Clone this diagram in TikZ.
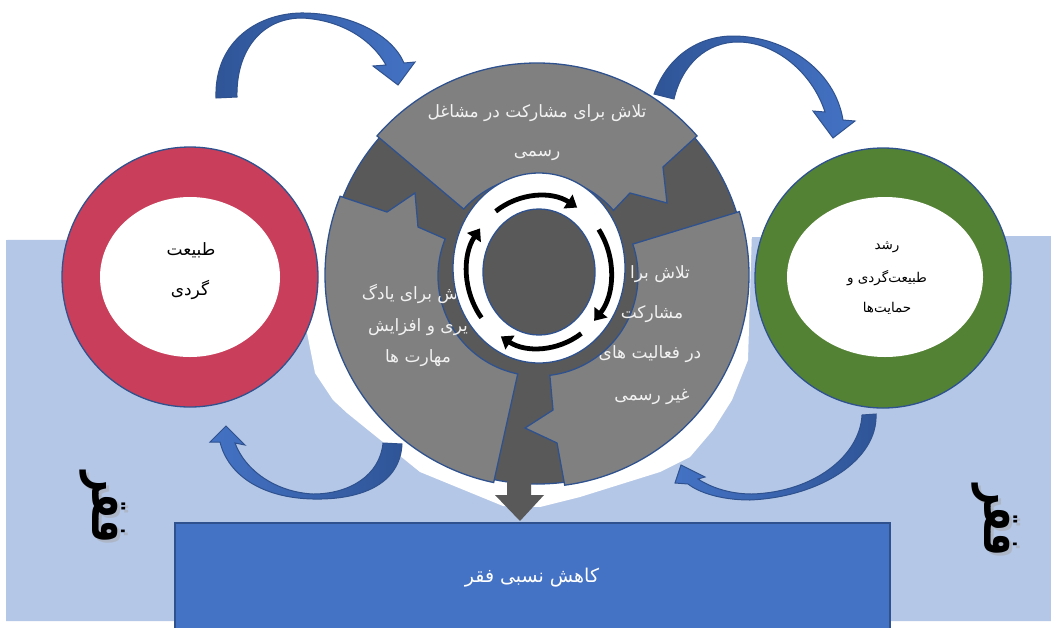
\documentclass[tikz,border=0pt]{standalone}
\usepackage{fontspec}
\usetikzlibrary{arrows.meta,calc}
\TeXXeTstate=1
\newfontfamily\arabicfont[Script=Arabic]{DejaVu Sans}
\definecolor{bgblue}{HTML}{B4C7E7}
\definecolor{edgeblue}{HTML}{2F528F}
\definecolor{darkgray}{HTML}{595959}
\definecolor{midgray}{HTML}{808080}
\definecolor{boxblue}{HTML}{4472C4}
\definecolor{arrdark}{HTML}{2F5597}
\definecolor{arrlight}{HTML}{4472C4}
\definecolor{redring}{HTML}{C93F5B}
\definecolor{greenring}{HTML}{548235}
\definecolor{offwhite}{HTML}{F2F2F2}
\tikzset{
  piece/.style={fill=midgray,draw=edgeblue,line width=1.3pt,line join=miter},
  ptext/.style={text=offwhite,inner sep=0pt,font=\arabicfont\fontsize{17}{19}\selectfont},
  ctext/.style={text=black,inner sep=0pt,font=\arabicfont\fontsize{17}{19}\selectfont},
  gtext/.style={text=black,inner sep=0pt,font=\arabicfont\fontsize{13.5}{15}\selectfont},
  bluearrow/.style={draw=edgeblue,line width=1pt,left color=arrdark,right color=arrlight},
  bluearrowr/.style={draw=edgeblue,line width=1pt,left color=arrlight,right color=arrdark},
  blackarr/.style={draw=black,line width=4.8pt,-{Triangle[length=11pt,width=16pt]}},
  sidetext/.style={inner sep=0pt,rotate=-90,yscale=1.45,font=\arabicfont\bfseries\fontsize{36}{38}\selectfont}
}
\begin{document}
\begin{tikzpicture}[x=1pt,y=1pt,yscale=-1]
\useasboundingbox (0,0) rectangle (1051,627);
\fill[white] (0,0) rectangle (1051,627);
% light blue band
\fill[bgblue] (6,240) -- (1051,236) -- (1051,621) -- (6,621) -- cycle;
% white halo round the wheel
\fill[white] (305,230) -- (307,333) -- (315,373) -- (333,400) -- (347,413) -- (420,472) -- (503,506) -- (540,507) -- (580,497) -- (660,472) -- (690,457) -- (713,430) -- (732,400) -- (748,360) -- (752,230) -- cycle;
% wheel
\draw[fill=darkgray,draw=edgeblue,line width=1.3pt] (537,275) circle[radius=209];
% top piece
\draw[piece] ($(537,275)+(-139:212)$) arc[start angle=-139,end angle=-41,radius=212]
  -- (663,167) -- (667,203) -- (630,193) -- ($(538,276)+(-41:100)$)
  arc[start angle=-41,end angle=-138,radius=100] -- cycle;
% left piece
\draw[piece] ($(537,275)+(101.8:212)$) arc[start angle=101.8,end angle=201.8,radius=212]
  -- (387,212) -- (415,193) -- (418,227) -- ($(538,276)+(201.8:100)$)
  arc[start angle=201.8,end angle=101.7,radius=100] -- cycle;
% right piece
\draw[piece] ($(537,275)+(-17.4:212)$) arc[start angle=-17.4,end angle=82.5,radius=212]
  -- (557,443) -- (525,428) -- (553,410) -- ($(538,276)+(83.2:100)$)
  arc[start angle=83.2,end angle=-18.6,radius=100] -- cycle;
% down arrow out of the wheel
\fill[darkgray] (507,465) -- (531,465) -- (531,495) -- (544,495) -- (520,521) -- (495,495) -- (507,495) -- cycle;
% texts of the pieces
\node[ptext] (top1) at (537,113) {\beginR تلاش برای مشارکت در مشاغل\endR};
\node[ptext] (top2) at (537,155) {\beginR رسمی\endR};
\node[ptext] (lf1) at (410,294) {\beginR ش برای یادگ\endR};
\node[ptext] (lf2) at (418,327) {\beginR یری و افزایش\endR};
\node[ptext] (lf3) at (418,358) {\beginR مهارت ها\endR};
\node[ptext] (rt1) at (660,274) {\beginR تلاش برا\endR};
\node[ptext] (rt2) at (652,314) {\beginR مشارکت\endR};
\node[ptext] (rt3) at (650,354) {\beginR در فعالیت های\endR};
\node[ptext] (rt4) at (652,397) {\beginR غیر رسمی\endR};
% centre ring
\draw[fill=white,draw=edgeblue,line width=1.3pt] (539,268) ellipse[x radius=86,y radius=95];
\draw[fill=darkgray,draw=edgeblue,line width=1.3pt] (539,272) ellipse[x radius=56,y radius=63];
\draw[blackarr] ($(539,272)+(-127:72 and 76)$) arc[start angle=-127,end angle=-58,x radius=72,y radius=76];
\draw[blackarr] ($(539,272)+(-34:72 and 76)$) arc[start angle=-34,end angle=40,x radius=72,y radius=76];
\draw[blackarr] ($(539,272)+(54:72 and 76)$) arc[start angle=54,end angle=122,x radius=72,y radius=76];
\draw[blackarr] ($(539,272)+(143:72 and 76)$) arc[start angle=143,end angle=215,x radius=72,y radius=76];
% red ring
\draw[fill=redring,draw=edgeblue,line width=1.3pt] (190,277) ellipse[x radius=128,y radius=130];
\fill[white] (190,277) ellipse[x radius=90,y radius=80];
\node[ctext] (r1) at (191,250) {\beginR طبیعت\endR};
\node[ctext] (r2) at (190,290) {\beginR گردی\endR};
% green ring
\draw[fill=greenring,draw=edgeblue,line width=1.3pt] (883,278) ellipse[x radius=128,y radius=130];
\fill[white] (885,277) ellipse[x radius=98,y radius=80];
\node[gtext] (g1) at (887,247) {\beginR رشد\endR};
\node[gtext] (g2) at (887,278) {\beginR طبیعت‌گردی و\endR};
\node[gtext] (g3) at (887,308) {\beginR حمایت‌ها\endR};
% curved blue arrows
\draw[bluearrow] (216,98) .. controls (214,40) and (260,12) .. (305,13)
  .. controls (352,14) and (392,35) .. (404,63) -- (415,62) -- (398,85) -- (373,66) -- (386,65)
  .. controls (372,40) and (342,20) .. (302,18)
  .. controls (262,18) and (236,50) .. (237,97) -- cycle;
\draw[bluearrow] (654,94) .. controls (668,55) and (700,36) .. (733,36)
  .. controls (785,36) and (835,70) .. (843,120) -- (855,121) -- (833,138) -- (813,111) -- (825,112)
  .. controls (812,72) and (775,42) .. (738,42)
  .. controls (706,42) and (682,65) .. (674,99) -- cycle;
\draw[bluearrowr] (402,444) .. controls (400,485) and (360,500) .. (313,499)
  .. controls (262,498) and (228,475) .. (220,442) -- (210,442) -- (226,426) -- (245,445) -- (235,443)
  .. controls (245,470) and (275,492) .. (313,494)
  .. controls (350,494) and (380,475) .. (383,443) -- cycle;
\draw[bluearrowr] (876,414) .. controls (878,460) and (820,497) .. (750,500)
  .. controls (720,500) and (698,492) .. (688,484) -- (675,483) -- (681,465) -- (705,477) -- (698,479)
  .. controls (715,490) and (735,494) .. (752,494)
  .. controls (815,492) and (860,455) .. (862,415) -- cycle;
% bottom box
\draw[fill=boxblue,draw=edgeblue,line width=1.5pt] (175,523) rectangle (890,632);
\node[ptext,text=white,font=\arabicfont\fontsize{19}{21}\selectfont] (bt) at (532,578) {\beginR کاهش نسبی فقر\endR};
% side words
\node[sidetext,text=black!35,opacity=0.5] (ls) at (106,510) {\beginR فقر\endR};
\node[sidetext] (lw) at (103,507) {\beginR فقر\endR};
\node[sidetext,text=black!35,opacity=0.5] (rs) at (998,523) {\beginR فقر\endR};
\node[sidetext] (rw) at (995,520) {\beginR فقر\endR};
\end{tikzpicture}
\end{document}
